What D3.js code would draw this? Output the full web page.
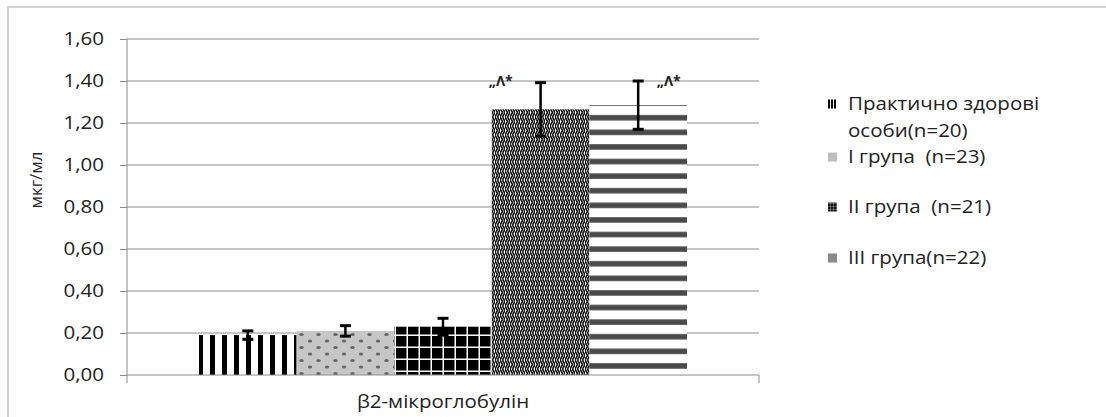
<!DOCTYPE html>
<html lang="uk">
<head>
<meta charset="UTF-8">
<title>β2-мікроглобулін</title>
<script src="https://d3js.org/d3.v7.min.js"></script>
<style>
  body { margin: 0; background: #fff; }
  text { font-family: "Open Sans", sans-serif; fill: #222; }
</style>
</head>
<body>
<svg id="chart"></svg>
<script>
// дані
var categories = ["β2-мікроглобулін"];
var seriesNames = ["Практично здорові особи(n=20)", "І група  (n=23)", "ІІ група  (n=21)", "ІІІ група(n=22)", "ІV"];
var values = [0.19, 0.21, 0.23, 1.265, 1.285];
var errors = [0.02, 0.025, 0.04, 0.127, 0.115];
var marks = ["", "", "", "„Λ*", "„Λ*"];
var yTicks = [0, 0.2, 0.4, 0.6, 0.8, 1.0, 1.2, 1.4, 1.6];
var legendLines = [["Практично здорові", "особи(n=20)"], ["І група  (n=23)"], ["ІІ група  (n=21)"], ["ІІІ група(n=22)"]];

var width = 1106, height = 417;
var mLeft = 127, mRight = 759, mTop = 39, mBottom = 375;

var svg = d3.select("#chart").attr("width", width).attr("height", height);

// текст у оригіналі трохи розтягнутий по горизонталі
function stretch(sel, k) {
  sel.each(function() {
    var w = this.getComputedTextLength();
    d3.select(this).attr("textLength", w * k).attr("lengthAdjust", "spacingAndGlyphs");
  });
}

// візерунки
var defs = svg.append("defs");
var p;
p = defs.append("pattern").attr("id", "p0").attr("patternUnits", "userSpaceOnUse")
  .attr("width", 12).attr("height", 10).attr("x", 198);
p.append("rect").attr("width", 12).attr("height", 10).attr("fill", "#fff");
p.append("rect").attr("width", 5).attr("height", 10).attr("fill", "#000");

p = defs.append("pattern").attr("id", "p1").attr("patternUnits", "userSpaceOnUse")
  .attr("width", 17).attr("height", 13);
p.append("rect").attr("width", 17).attr("height", 13).attr("fill", "#c6c6c6");
p.append("ellipse").attr("cx", 4).attr("cy", 3).attr("rx", 2.2).attr("ry", 1.6).attr("fill", "#666");
p.append("ellipse").attr("cx", 12.5).attr("cy", 9.5).attr("rx", 2.2).attr("ry", 1.6).attr("fill", "#666");

p = defs.append("pattern").attr("id", "p2").attr("patternUnits", "userSpaceOnUse")
  .attr("width", 12).attr("height", 12);
p.append("rect").attr("width", 12).attr("height", 12).attr("fill", "#000");
p.append("rect").attr("x", 10.5).attr("width", 1.5).attr("height", 12).attr("fill", "#fff");
p.append("rect").attr("y", 10.5).attr("width", 12).attr("height", 1.5).attr("fill", "#fff");

p = defs.append("pattern").attr("id", "p3").attr("patternUnits", "userSpaceOnUse")
  .attr("width", 5).attr("height", 9);
p.append("rect").attr("width", 5).attr("height", 9).attr("fill", "#fff");
p.append("path").attr("d", "M0,0 L2.5,4.5 L0,9 M2.5,0 L5,4.5 L2.5,9")
  .attr("stroke", "#111").attr("stroke-width", 1.6).attr("fill", "none");

p = defs.append("pattern").attr("id", "p4").attr("patternUnits", "userSpaceOnUse")
  .attr("width", 10).attr("height", 14.6).attr("y", 108);
p.append("rect").attr("width", 10).attr("height", 14.6).attr("fill", "#fff");
p.append("rect").attr("y", 7).attr("width", 10).attr("height", 5.5).attr("fill", "#4a4a4a");

// маленькі візерунки для легенди
p = defs.append("pattern").attr("id", "l0").attr("patternUnits", "userSpaceOnUse")
  .attr("width", 3).attr("height", 9);
p.append("rect").attr("width", 3).attr("height", 9).attr("fill", "#fff");
p.append("rect").attr("width", 2).attr("height", 9).attr("fill", "#000");
p = defs.append("pattern").attr("id", "l2").attr("patternUnits", "userSpaceOnUse")
  .attr("width", 3).attr("height", 3);
p.append("rect").attr("width", 3).attr("height", 3).attr("fill", "#111");
p.append("rect").attr("x", 2.4).attr("width", 0.6).attr("height", 3).attr("fill", "#888");
p.append("rect").attr("y", 2.4).attr("width", 3).attr("height", 0.6).attr("fill", "#888");

var fills = ["url(#p0)", "url(#p1)", "url(#p2)", "url(#p3)", "url(#p4)"];
var legendFills = ["url(#l0)", "#bdbdbd", "url(#l2)", "#8a8a8a"];

// рамка
svg.append("path").attr("d", "M8," + height + " L8,7 L" + width + ",7")
  .attr("fill", "none").attr("stroke", "#d0d0d0").attr("stroke-width", 2);

// шкали
var y = d3.scaleLinear().domain([0, 1.6]).range([mBottom, mTop]);
var x0 = d3.scaleBand().domain(categories).range([mLeft, mRight]).paddingInner(0.1286).paddingOuter(0.1286);
var x1 = d3.scaleBand().domain(d3.range(values.length)).range([0, x0.bandwidth()]);

// сітка
svg.append("g").selectAll("line").data(yTicks.slice(1)).enter().append("line")
  .attr("x1", mLeft).attr("x2", mRight)
  .attr("y1", function(d) { return y(d); }).attr("y2", function(d) { return y(d); })
  .attr("stroke", "#8c8c8c").attr("stroke-width", 1);

// вісь Y
var yAxis = svg.append("g").attr("transform", "translate(" + mLeft + ",0)")
  .call(d3.axisLeft(y).tickValues(yTicks).tickSize(7).tickPadding(16)
    .tickFormat(function(d) { return d.toFixed(2).replace(".", ","); }));
yAxis.selectAll("line, path").attr("stroke", "#8c8c8c");
yAxis.select(".domain").attr("d", "M0," + mTop + "V" + mBottom);
yAxis.selectAll("text").attr("font-size", 18).attr("fill", "#1a1a1a").style("font-family", "'Open Sans', sans-serif");
stretch(yAxis.selectAll("text"), 1.14);

svg.append("text").attr("transform", "translate(42,180) rotate(-90)")
  .attr("text-anchor", "middle").attr("font-size", 17).text("мкг/мл");

// стовпці
var g = svg.append("g");
g.selectAll("rect").data(values).enter().append("rect")
  .attr("x", function(d, i) { return x0(categories[0]) + x1(i); })
  .attr("width", x1.bandwidth())
  .attr("y", function(d) { return y(d); })
  .attr("height", function(d) { return mBottom - y(d); })
  .attr("fill", function(d, i) { return fills[i]; });

// вісь X
var xAxis = svg.append("g").attr("transform", "translate(0," + mBottom + ")")
  .call(d3.axisBottom(x0).tickSize(0).tickPadding(20));
xAxis.select(".domain").attr("stroke", "#8c8c8c").attr("d", "M" + mLeft + ",8V0H" + mRight + "V8");
xAxis.selectAll("text").attr("font-size", 18).attr("fill", "#1a1a1a").style("font-family", "'Open Sans', sans-serif");
stretch(xAxis.selectAll("text"), 1.14);

// похибки
var eb = svg.append("g").attr("stroke", "#000").attr("stroke-width", 2.5);
values.forEach(function(v, i) {
  var cx = x0(categories[0]) + x1(i) + x1.bandwidth() / 2;
  eb.append("line").attr("x1", cx).attr("x2", cx).attr("y1", y(v + errors[i])).attr("y2", y(v - errors[i]));
  eb.append("line").attr("x1", cx - 5.5).attr("x2", cx + 5.5).attr("y1", y(v + errors[i])).attr("y2", y(v + errors[i])).attr("stroke-width", 3);
  eb.append("line").attr("x1", cx - 5.5).attr("x2", cx + 5.5).attr("y1", y(v - errors[i])).attr("y2", y(v - errors[i])).attr("stroke-width", 3);
});

// позначки
svg.append("g").selectAll("text").data(marks).enter().append("text")
  .attr("x", function(d, i) { return x0(categories[0]) + x1(i) + (i === 3 ? -3 : x1.bandwidth() * 0.69); })
  .attr("y", y(1.375))
  .attr("font-size", 14).attr("font-weight", "bold")
  .text(function(d) { return d; });

// легенда
var legendY = [104, 157, 207, 258];
var lg = svg.append("g");
legendLines.forEach(function(lines, i) {
  lg.append("rect").attr("x", 828).attr("y", legendY[i] - 4.5).attr("width", 9).attr("height", 9)
    .attr("fill", legendFills[i]);
  lines.forEach(function(t, j) {
    var tx = lg.append("text").attr("x", 848).attr("y", legendY[i] + 6 + j * 27)
      .attr("font-size", 18).attr("xml:space", "preserve").text(t);
    stretch(tx, 1.14);
  });
});
</script>
</body>
</html>
